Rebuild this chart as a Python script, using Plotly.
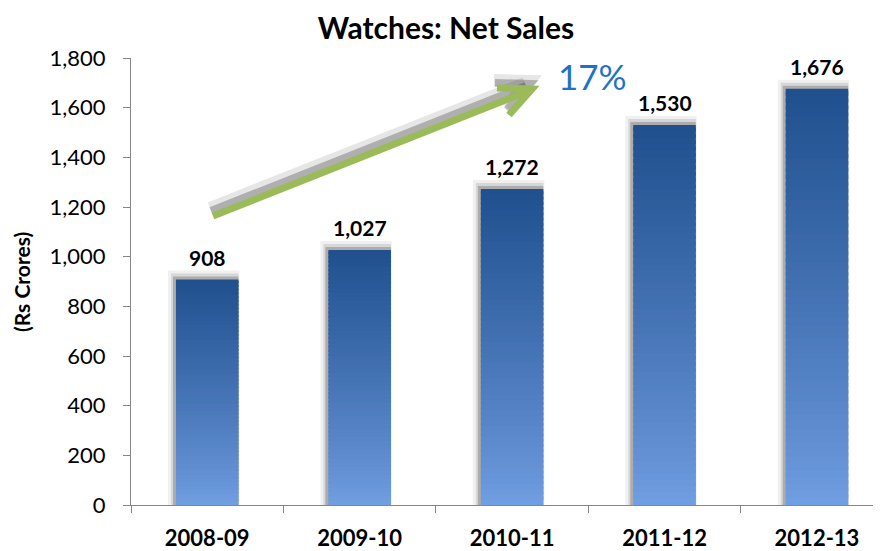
import plotly.graph_objects as go

# ---- data ----
years = ["2008-09", "2009-10", "2010-11", "2011-12", "2012-13"]
net_sales = [908, 1027, 1272, 1530, 1676]
y_ticks = [0, 200, 400, 600, 800, 1000, 1200, 1400, 1600, 1800]
growth_label = "17%"

# ---- layout geometry (window pixels; page body has an 8px margin) ----
OFF = 8
W, H = 881 - OFF, 551 - OFF
PL, PT, PB = 131, 58, 505          # plot area in window pixels
L, T = PL - OFF, PT - OFF
B = H - (PB - OFF)
R = 0
PW, PH = W - L - R, H - T - B
YMAX = 1800
XR = [-0.5, 4.42]
px_x = (XR[1] - XR[0]) / PW      # category units per pixel
px_y = YMAX / PH                 # value units per pixel
BW = 0.41

FONT = "Lato"

def lerp(c1, c2, t):
    return "rgb(%d,%d,%d)" % tuple(round(a + (b - a) * t) for a, b in zip(c1, c2))

light = (112, 158, 226)
dark = (33, 80, 143)

fig = go.Figure()

# soft shadows behind bars (top/left)
for alpha, dl, dt, dr in [(0.06, 8, 9, 1), (0.10, 5, 6, 0), (0.20, 3, 3, 0)]:
    fig.add_trace(go.Bar(
        x=years, y=[v + dt * px_y for v in net_sales],
        width=BW + (dl + dr) * px_x, offset=-BW / 2 - dl * px_x,
        marker=dict(color=f"rgba(0,0,0,{alpha})", line=dict(width=0)),
        hoverinfo="skip", showlegend=False))

# gradient bars built from stacked slices
N = 60
for k in range(N):
    t = (k / (N - 1)) ** 0.85
    bases = [v * k / N for v in net_sales]
    heights = [min(v * 1.6 / N, v - b) for v, b in zip(net_sales, bases)]
    fig.add_trace(go.Bar(
        x=years, y=heights, base=bases, width=BW,
        marker=dict(color=lerp(light, dark, t), line=dict(width=0)),
        hoverinfo="skip", showlegend=False))

# value labels
for yr, v in zip(years, net_sales):
    fig.add_annotation(x=yr, y=v, text=f"<b>{v:,}</b>", showarrow=False,
                       yanchor="bottom", yshift=8,
                       font=dict(family=FONT, size=21, color="#000000"))

def P(px, py):
    return (px - PL) / PW, (PB - py) / PH

# growth arrow (decoration)
start, tip = (213, 216), (532, 89)
arm1, arm2 = (497, 88), (509, 115)
def add_arrow(dx, dy, color, width):
    s = P(start[0] + dx, start[1] + dy)
    e = P(tip[0] + dx - 4, tip[1] + dy + 2)
    fig.add_shape(type="line", xref="paper", yref="paper",
                  x0=s[0], y0=s[1], x1=e[0], y1=e[1],
                  line=dict(color=color, width=width))
    a, tp, b = P(arm1[0] + dx, arm1[1] + dy), P(tip[0] + dx, tip[1] + dy), P(arm2[0] + dx, arm2[1] + dy)
    fig.add_shape(type="path", xref="paper", yref="paper",
                  path=f"M {a[0]} {a[1]} L {tp[0]} {tp[1]} L {b[0]} {b[1]}",
                  line=dict(color=color, width=width))

add_arrow(-3, -8, "rgba(50,50,50,0.12)", 12)
add_arrow(-2, -5, "rgba(50,50,50,0.30)", 8)
add_arrow(0, 0, "#9BBB59", 7)

gx, gy = P(592, 76)
fig.add_annotation(xref="paper", yref="paper", x=gx, y=gy, text=growth_label,
                   xanchor="center", yanchor="middle",
                   showarrow=False, font=dict(family=FONT, size=35, color="#1E73C4"))

# y-axis title
ax, ay = P(21, 282)
fig.add_annotation(xref="paper", yref="paper", x=ax, y=ay, text="<b>(Rs Crores)</b>",
                   xanchor="center", yanchor="middle",
                   textangle=-90, showarrow=False,
                   font=dict(family=FONT, size=21, color="#000000"))

fig.update_layout(
    width=W, height=H,
    margin=dict(l=L, r=R, t=T, b=B, pad=0, autoexpand=False),
    paper_bgcolor="white", plot_bgcolor="white",
    barmode="overlay",
    title=dict(text="<b>Watches: Net Sales</b>", x=(446 - OFF) / W, xanchor="center",
               y=1 - (28 - OFF) / H, yanchor="middle",
               font=dict(family=FONT, size=30, color="#000000")),
    showlegend=False,
    xaxis=dict(type="category", categoryorder="array", categoryarray=years,
               range=XR, showgrid=False, zeroline=False, automargin=False,
               showline=True, linecolor="#868686", linewidth=1,
               ticks="outside", tickson="boundaries", ticklen=7, tickcolor="#868686",
               tickfont=dict(family=FONT, size=22, color="#000000", weight="bold"),
               ticklabelstandoff=14),
    yaxis=dict(range=[0, YMAX], tickvals=y_ticks, tickformat=",d",
               showgrid=False, zeroline=False, automargin=False,
               showline=True, linecolor="#868686", linewidth=1,
               ticks="outside", ticklen=7, tickcolor="#868686",
               tickfont=dict(family=FONT, size=22, color="#000000"),
               ticklabelstandoff=13),
)

fig.write_html("out.html")
